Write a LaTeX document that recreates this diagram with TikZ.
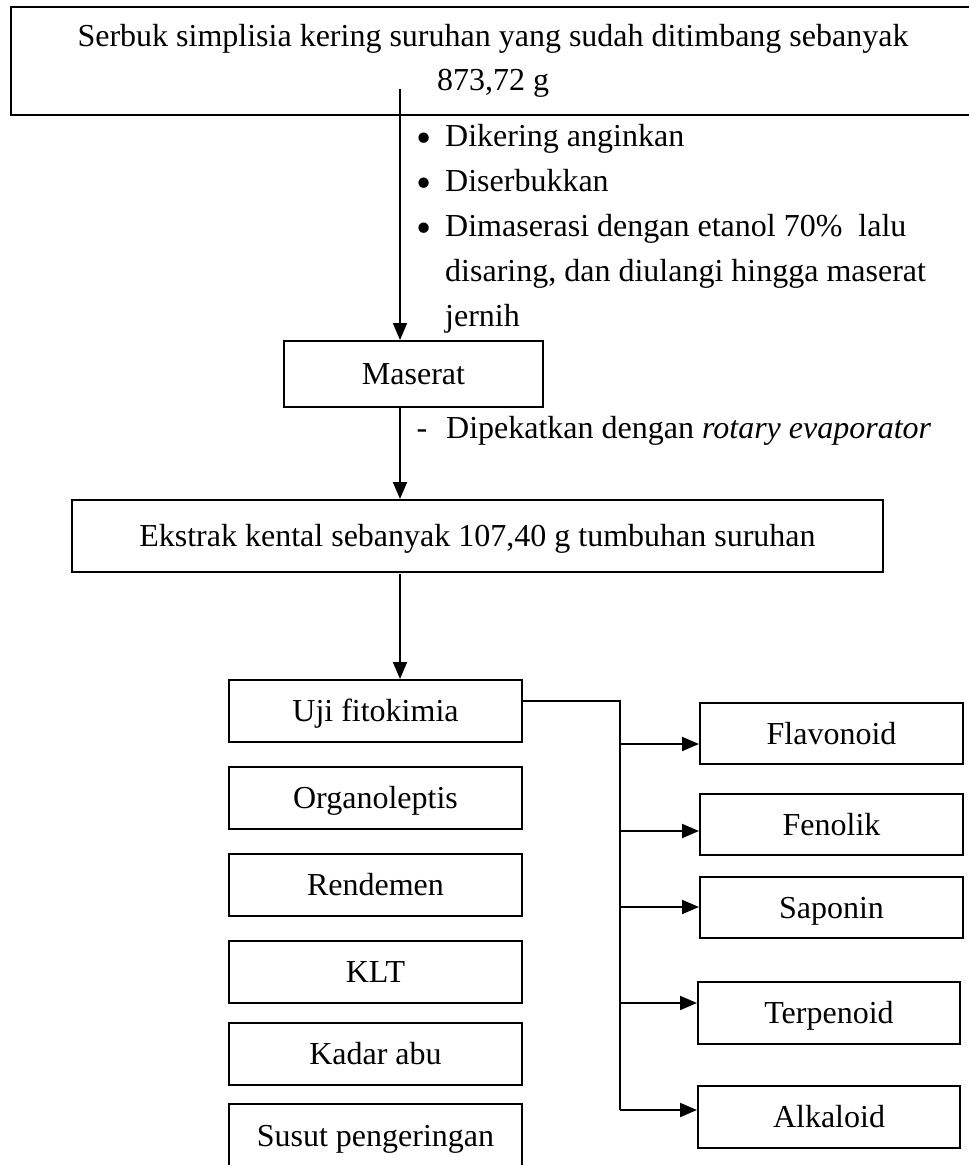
\documentclass[tikz,border=0pt]{standalone}
\usepackage{fontspec}
\usepackage{graphicx}
\setmainfont{Liberation Serif}
\usetikzlibrary{arrows.meta}
\newcommand{\bigbul}{\llap{\raisebox{-6.5pt}{\scalebox{1.35}{\textbullet}}\hspace{14pt}}}
\tikzset{
  every node/.style={font=\fontsize{32pt}{43pt}\selectfont, inner sep=0pt},
  box/.style={draw, line width=2pt, text height=21pt, text depth=0pt, anchor=north west},
  txt/.style={anchor=base west},
  ctxt/.style={anchor=base},
  conn/.style={line width=2pt},
  arr/.style={conn, -{Triangle[length=17pt,width=14pt]}}
}
\begin{document}
\begin{tikzpicture}[x=1pt,y=-1pt]
\useasboundingbox (0,0) rectangle (969,1165);
\clip (0,0) rectangle (969,1165);
% top box
\node[box, minimum width=966pt, minimum height=108pt] (top) at (10,6) {};
\node[ctxt] (topa) at (493,46) {Serbuk simplisia kering suruhan yang sudah ditimbang sebanyak};
\node[ctxt] (topb) at (493,90) {873,72 g};
\coordinate (s1) at (400,89);
% steps
\node[txt] (b1) at (445,146) {\bigbul Dikering anginkan};
\node[txt] (b2) at (445,191) {\bigbul Diserbukkan};
\node[txt] (b3) at (445,236) {\bigbul Dimaserasi dengan etanol 70\%\ \ lalu};
\node[txt] (b4) at (445,281) {disaring, dan diulangi hingga maserat};
\node[txt] (b5) at (445,326) {jernih};
% maserat
\node[box, minimum width=259pt, minimum height=66pt] (mas) at (283,340) {Maserat};
\draw[arr] (s1) -- (s1 |- mas.north);
\node[txt] (d1) at (446,438) {\llap{-\hspace{19pt}}Dipekatkan dengan \textit{rotary evaporator}};
% ekstrak
\node[box, minimum width=811pt, minimum height=72pt] (eks) at (71,499) {Ekstrak kental sebanyak 107,40 g tumbuhan suruhan};
\coordinate (s2) at (400,406);
\draw[arr] (s2) -- (s2 |- eks.north);
% left column
\node[box, minimum width=293pt, minimum height=62pt] (uji) at (228,679) {Uji fitokimia};
\node[box, minimum width=293pt, minimum height=62pt] (org) at (228,766) {Organoleptis};
\node[box, minimum width=293pt, minimum height=62pt] (ren) at (228,853) {Rendemen};
\node[box, minimum width=293pt, minimum height=62pt] (klt) at (228,940) {KLT};
\node[box, minimum width=293pt, minimum height=62pt] (kad) at (228,1022) {Kadar abu};
\node[box, minimum width=293pt, minimum height=64pt] (sus) at (228,1103) {Susut pengeringan};
\coordinate (s3) at (400,574);
\draw[arr] (s3) -- (s3 |- uji.north);
% right column
\node[box, minimum width=263pt, minimum height=61pt] (fla) at (699,702) {Flavonoid};
\node[box, minimum width=263pt, minimum height=61pt] (fen) at (699,793) {Fenolik};
\node[box, minimum width=263pt, minimum height=61pt] (sap) at (699,876) {Saponin};
\node[box, minimum width=262pt, minimum height=62pt] (ter) at (697,981) {Terpenoid};
\node[box, minimum width=262pt, minimum height=62pt] (alk) at (697,1085) {Alkaloid};
% branching
\coordinate (t0) at (620,701);
\coordinate (j1) at (620,744);
\coordinate (j2) at (620,831);
\coordinate (j3) at (620,907);
\coordinate (j4) at (620,1003);
\coordinate (j5) at (620,1110);
\draw[conn] (t0 -| uji.east) -- (t0) -- (j5);
\draw[arr] (j1) -- (j1 -| fla.west);
\draw[arr] (j2) -- (j2 -| fen.west);
\draw[arr] (j3) -- (j3 -| sap.west);
\draw[arr] (j4) -- (j4 -| ter.west);
\draw[arr] (j5) -- (j5 -| alk.west);
\end{tikzpicture}
\end{document}
